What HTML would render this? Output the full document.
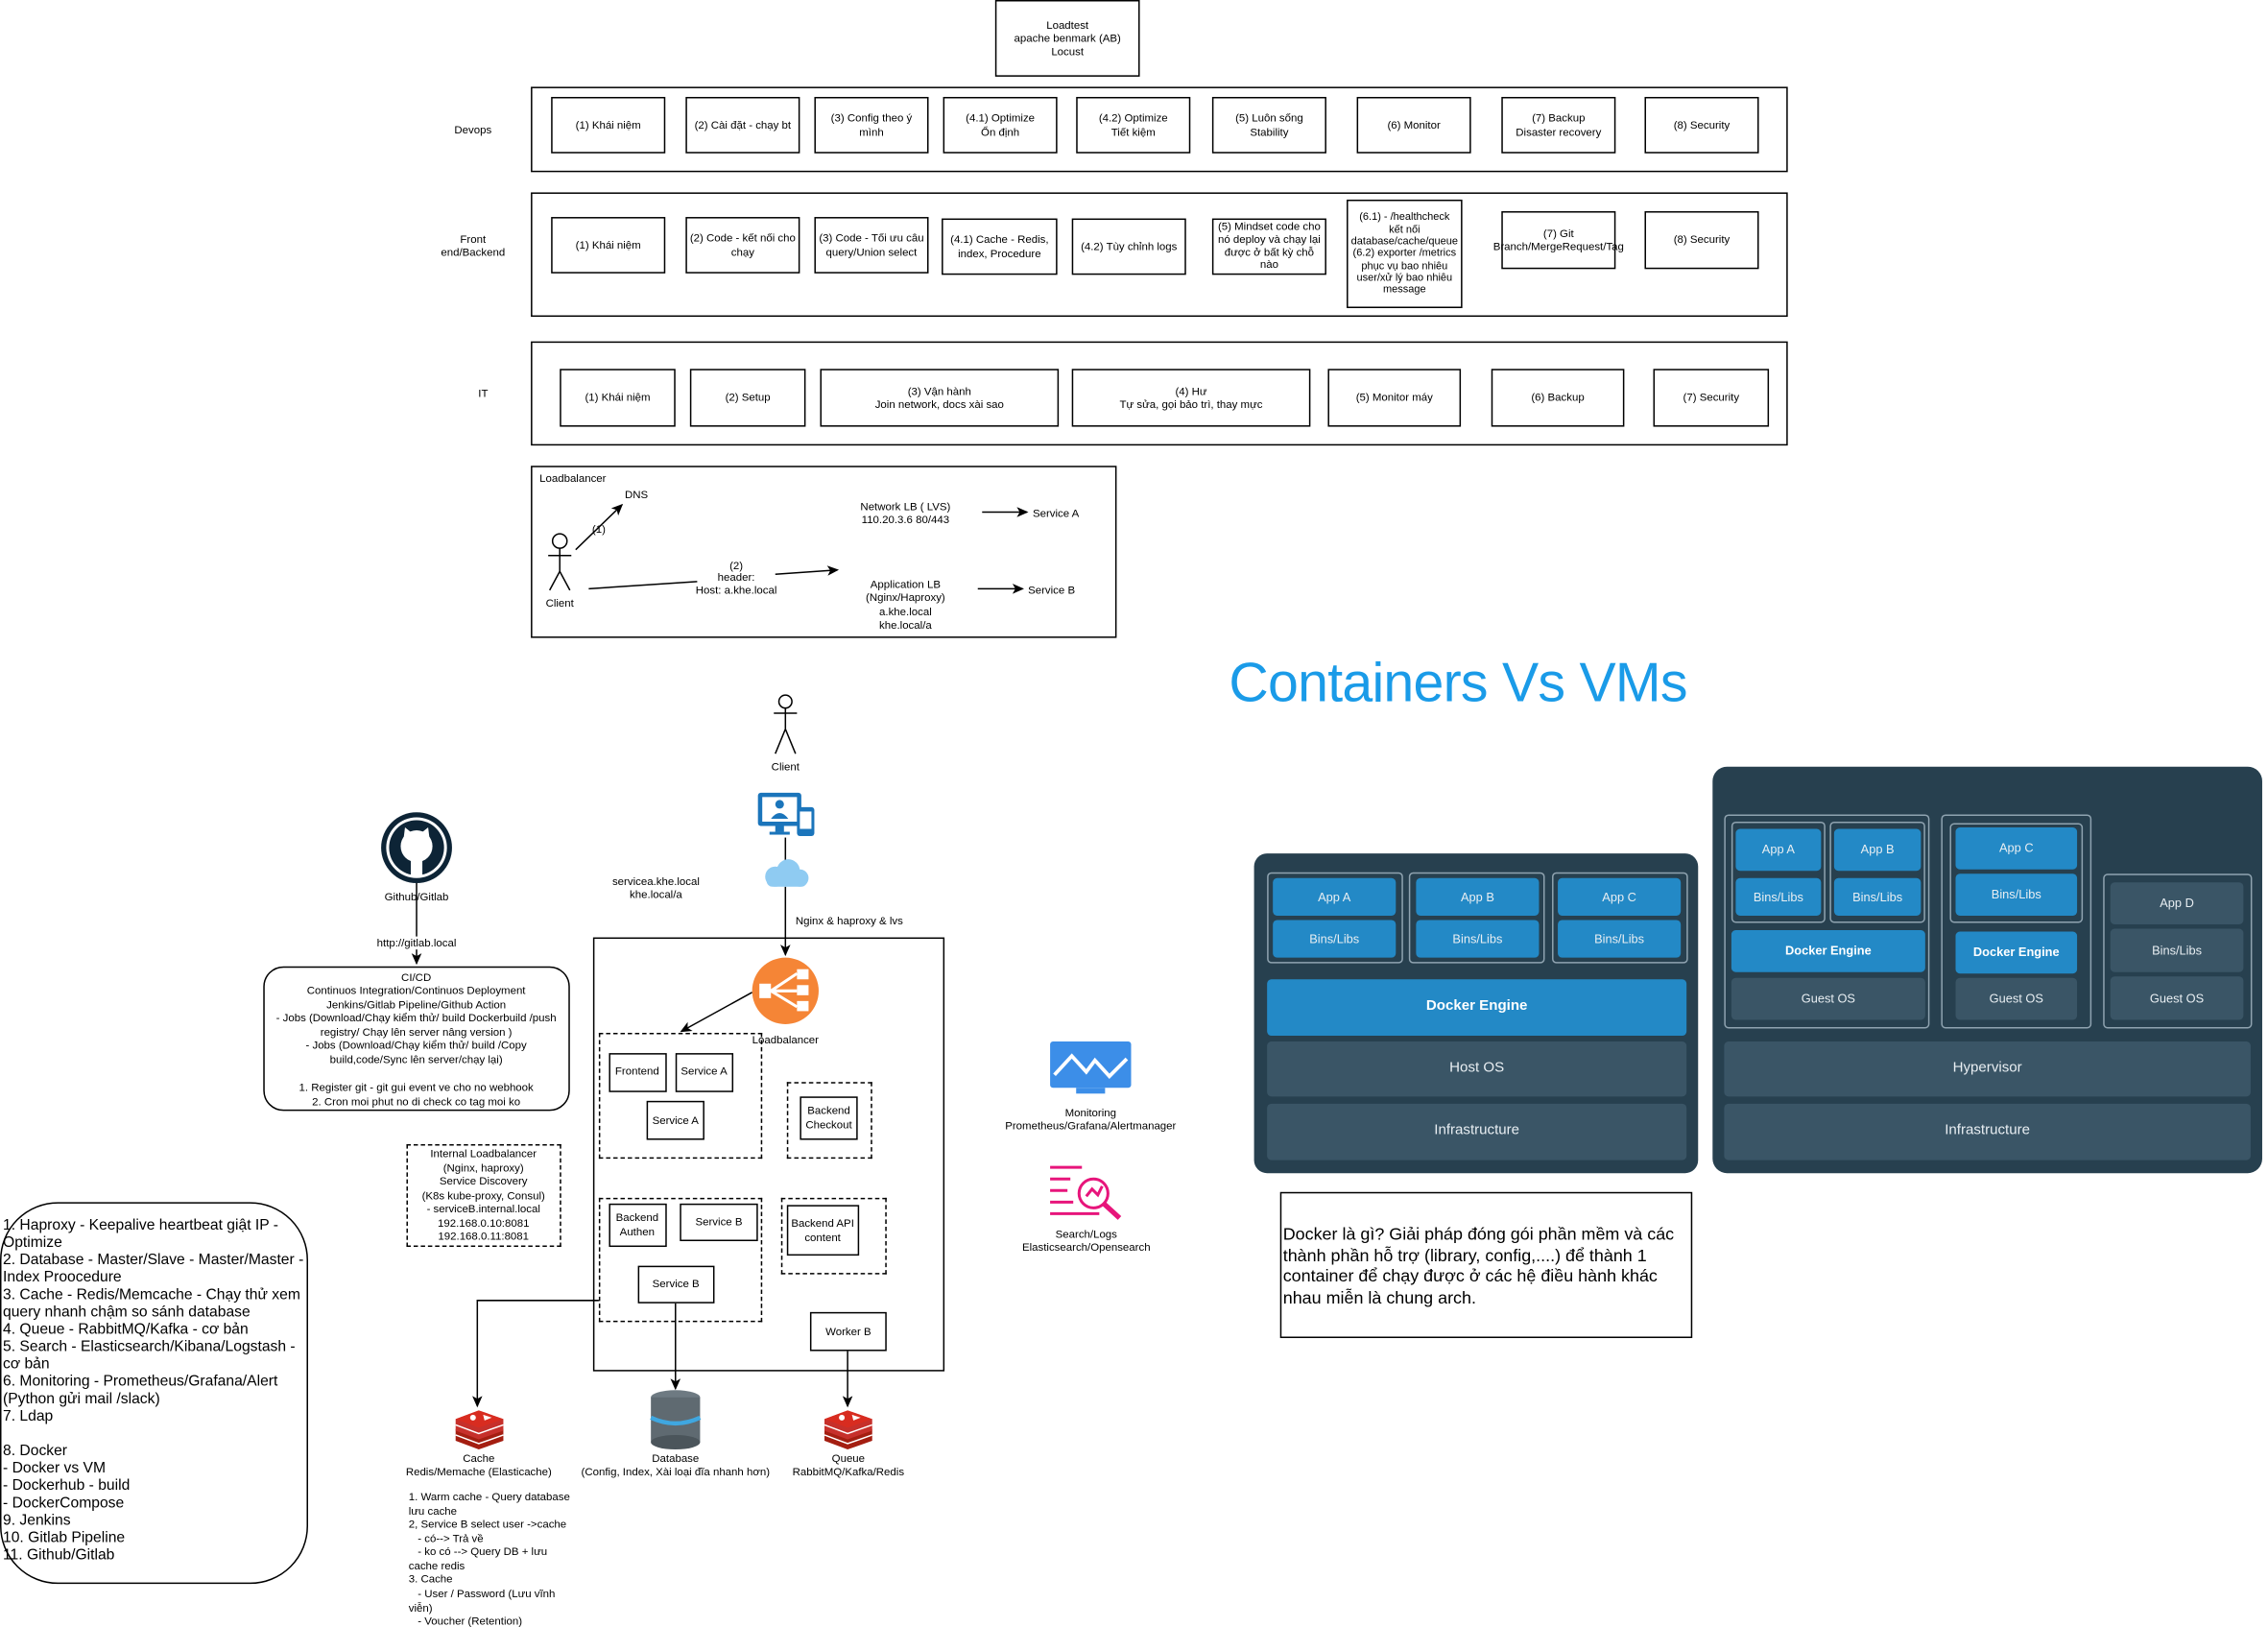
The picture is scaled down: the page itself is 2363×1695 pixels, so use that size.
<!DOCTYPE html>
<html><head><meta charset="utf-8">
<style>
html,body{margin:0;padding:0;background:#fff;overflow:hidden}
body{width:2363px;height:1695px;position:relative}
#w{position:absolute;left:0;top:0;width:1568px;height:1125px;transform:scale(1.50702);transform-origin:0 0;font-family:"Liberation Sans","Noto Sans CJK SC",sans-serif;font-size:7.6px;color:#000;line-height:1.22}
.b{position:absolute;box-sizing:border-box;border:1px solid #000;display:flex;align-items:center;justify-content:center;text-align:center;background:#fff}
.d{position:absolute;box-sizing:border-box;border:1px dashed #000}
.t{position:absolute;text-align:center;white-space:nowrap;transform:translate(-50%,-50%)}
.l{position:absolute;white-space:nowrap}
.p{position:absolute;box-sizing:border-box;border-radius:3px;display:flex;align-items:center;justify-content:center;color:#e8eef2;font-size:8.5px}
.bl{background:#2389c6}.gr{background:#3a5566}
.o{position:absolute;box-sizing:border-box;border:1px solid #8fa3b0;border-radius:3px}
</style></head><body><div id="w">
<svg style="position:absolute;left:0;top:0" width="1568" height="1125">
<defs><marker id="a" markerWidth="8" markerHeight="8" refX="7" refY="4" orient="auto" markerUnits="userSpaceOnUse"><path d="M0,0.5 L8,4 L0,7.5 L2,4z" fill="#000"/></marker></defs>
<g stroke="#000" stroke-width="1" fill="none">
<circle cx="387" cy="374" r="5"/><path d="M387,379 V395 M379,384 H395 M387,395 L380,408 M387,395 L394,408"/>
<path d="M398,380 L430,349" marker-end="url(#a)"/>
<path d="M407,407 L482,402"/><path d="M536,397 L579,394" marker-end="url(#a)"/>
<path d="M679,354 H710" marker-end="url(#a)"/><path d="M676,407 H707" marker-end="url(#a)"/>
<circle cx="543" cy="485" r="4.5"/><path d="M543,489.5 V504 M535,493 H551 M543,504 L536,521 M543,504 L550,521"/>
<path d="M543,579 V596"/><path d="M543,613 V660" marker-end="url(#a)"/>
<path d="M520,686 L471,713" marker-end="url(#a)"/>
<path d="M288,610 V666" marker-end="url(#a)"/>
<path d="M414,899 H330 V972" marker-end="url(#a)"/>
<path d="M467,901 V960" marker-end="url(#a)"/>
<path d="M586,934 V972" marker-end="url(#a)"/>
</g>
<!-- monitor icon client -->
<rect x="524" y="548" width="30" height="23" rx="2" fill="#1b75bb"/><rect x="527" y="551" width="24" height="17" fill="#fff"/>
<circle cx="539" cy="556" r="3" fill="#1b75bb"/><path d="M533,566 Q539,558 545,566z" fill="#1b75bb"/>
<rect x="536" y="571" width="6" height="4" fill="#1b75bb"/><rect x="532" y="575" width="14" height="2" fill="#1b75bb"/>
<rect x="551" y="558" width="12" height="20" rx="2" fill="#1b75bb"/><rect x="553" y="561" width="8" height="12" fill="#fff"/>
<!-- cloud -->
<g fill="#8fcbf2"><circle cx="536" cy="606" r="7"/><circle cx="545" cy="602" r="8"/><circle cx="553" cy="607" r="6"/><rect x="530" y="604" width="28" height="9" rx="4"/></g>
<!-- LB icon -->
<circle cx="543" cy="685" r="23" fill="#f58536"/>
<g fill="#fff"><rect x="525" y="680" width="8" height="10"/><rect x="551" y="670" width="8" height="7"/><rect x="551" y="681" width="8" height="7"/><rect x="551" y="692" width="8" height="7"/></g>
<path d="M533,685 L551,673 M533,685 H551 M533,685 L551,696" stroke="#fff" stroke-width="2"/>
<!-- github -->
<circle cx="288" cy="586" r="24.5" fill="#0d2436"/><circle cx="288" cy="586" r="21" fill="#fff"/><circle cx="288" cy="586" r="19" fill="#0d2436"/>
<circle cx="288" cy="585" r="11" fill="#fff"/><path d="M279,580 L280,572 L285,576 H291 L296,572 L297,580z" fill="#fff"/>
<rect x="284" y="594" width="8" height="12" fill="#fff"/>
<!-- redis -->
<g id="rd"><path d="M315,988 L331,982 L348,988 L348,996 L331,1002 L315,996z" fill="#a41e11"/><path d="M315,981 L331,975 L348,981 L348,989 L331,995 L315,989z" fill="#c6302b"/><path d="M315,981 L331,975 L348,981 L331,987z" fill="#d82c20"/><path d="M315,985 L331,991 L348,985" stroke="#fff" stroke-width="1" fill="none"/><path d="M315,992 L331,998 L348,992" stroke="#fff" stroke-width="1" fill="none"/><circle cx="327" cy="980" r="2" fill="#fff"/><path d="M334,978 L340,980 L335,982z" fill="#fff"/></g>
<use href="#rd" x="255" y="0"/>
<!-- db -->
<ellipse cx="467" cy="966" rx="17" ry="5" fill="#6e7a82"/><rect x="450" y="966" width="34" height="31" fill="#5f6a71"/><ellipse cx="467" cy="997" rx="17" ry="5" fill="#4b555b"/>
<path d="M450,980 Q467,988 484,980" stroke="#3fa7e0" stroke-width="3" fill="none"/>
<!-- monitoring -->
<rect x="726" y="720" width="56" height="32" rx="2" fill="#3c8ee8"/><path d="M729,743 L741,730 L751,741 L757,733 L767,744 L779,732" stroke="#fff" stroke-width="2.5" fill="none"/>
<rect x="744" y="752" width="20" height="4" fill="#3c8ee8"/>
<!-- search -->
<g stroke="#e7157b" stroke-width="2" fill="none"><path d="M726,807 H748 M726,815 H740 M726,823 H738 M726,831 H742 M726,839 H760"/><circle cx="756" cy="825" r="10"/><path d="M763,832 L774,842" stroke-width="3.5"/><path d="M751,827 L755,822 L759,826 L762,820"/></g>
</svg>

<div class="b" style="left:688px;top:0;width:100px;height:53px">Loadtest<br>apache benmark (AB)<br>Locust</div>

<div class="t" style="left:327px;top:90px">Devops</div>
<div class="b" style="left:367px;top:60px;width:869px;height:59px;background:none"></div>
<div class="b" style="left:381px;top:67px;width:79px;height:39px">(1) Khái niệm</div>
<div class="b" style="left:474px;top:67px;width:79px;height:39px">(2) Cài đặt - chạy bt</div>
<div class="b" style="left:563px;top:67px;width:79px;height:39px">(3) Config theo ý<br>mình</div>
<div class="b" style="left:652px;top:67px;width:79px;height:39px">(4.1) Optimize<br>Ổn định</div>
<div class="b" style="left:744px;top:67px;width:79px;height:39px">(4.2) Optimize<br>Tiết kiệm</div>
<div class="b" style="left:838px;top:67px;width:79px;height:39px">(5) Luôn sống<br>Stability</div>
<div class="b" style="left:938px;top:67px;width:79px;height:39px">(6) Monitor</div>
<div class="b" style="left:1038px;top:67px;width:79px;height:39px">(7) Backup<br>Disaster recovery</div>
<div class="b" style="left:1137px;top:67px;width:79px;height:39px">(8) Security</div>

<div class="t" style="left:327px;top:170px">Front<br>end/Backend</div>
<div class="b" style="left:367px;top:133px;width:869px;height:86px;background:none"></div>
<div class="b" style="left:381px;top:150px;width:79px;height:39px">(1) Khái niệm</div>
<div class="b" style="left:474px;top:150px;width:79px;height:39px">(2) Code - kết nối cho<br>chạy</div>
<div class="b" style="left:563px;top:150px;width:79px;height:39px">(3) Code - Tối ưu câu<br>query/Union select</div>
<div class="b" style="left:651px;top:151px;width:80px;height:39px">(4.1) Cache - Redis,<br>index, Procedure</div>
<div class="b" style="left:741px;top:151px;width:79px;height:39px">(4.2) Tùy chỉnh logs</div>
<div class="b" style="left:838px;top:151px;width:79px;height:39px;line-height:1.15">(5) Mindset code cho<br>nó deploy và chạy lại<br>được ở bất kỳ chỗ<br>nào</div>
<div class="b" style="left:931px;top:138px;width:80px;height:75px;line-height:1.15;font-size:7.3px">(6.1) - /healthcheck<br>kết nối<br>database/cache/queue<br>(6.2) exporter /metrics<br>phục vụ bao nhiêu<br>user/xử lý bao nhiêu<br>message</div>
<div class="b" style="left:1038px;top:146px;width:79px;height:40px">(7) Git<br>Branch/MergeRequest/Tag</div>
<div class="b" style="left:1137px;top:146px;width:79px;height:40px">(8) Security</div>

<div class="t" style="left:334px;top:272px">IT</div>
<div class="b" style="left:367px;top:236px;width:869px;height:72px;background:none"></div>
<div class="b" style="left:387px;top:255px;width:80px;height:40px">(1) Khái niệm</div>
<div class="b" style="left:477px;top:255px;width:80px;height:40px">(2) Setup</div>
<div class="b" style="left:567px;top:255px;width:165px;height:40px">(3) Vận hành<br>Join network, docs xài sao</div>
<div class="b" style="left:741px;top:255px;width:165px;height:40px">(4) Hư<br>Tự sửa, gọi bảo trì, thay mực</div>
<div class="b" style="left:918px;top:255px;width:92px;height:40px">(5) Monitor máy</div>
<div class="b" style="left:1031px;top:255px;width:92px;height:40px">(6) Backup</div>
<div class="b" style="left:1143px;top:255px;width:80px;height:40px">(7) Security</div>

<div class="b" style="left:367px;top:322px;width:405px;height:119px;background:none"></div>
<div class="l" style="left:373px;top:326px">Loadbalancer</div>
<div class="t" style="left:440px;top:342px">DNS</div>
<div class="t" style="left:414px;top:366px">(1)</div>
<div class="t" style="left:387px;top:417px">Client</div>
<div class="t" style="left:509px;top:400px;line-height:1.1">(2)<br>header:<br>Host: a.khe.local</div>
<div class="t" style="left:626px;top:355px">Network LB ( LVS)<br>110.20.3.6 80/443</div>
<div class="t" style="left:730px;top:355px">Service A</div>
<div class="t" style="left:626px;top:418px">Application LB<br>(Nginx/Haproxy)<br>a.khe.local<br>khe.local/a</div>
<div class="t" style="left:727px;top:408px">Service B</div>

<div class="t" style="left:1008px;top:473px;font-size:38px;color:#1a9be8;letter-spacing:-0.5px">Containers Vs VMs</div>

<!-- Docker panel -->
<div style="position:absolute;left:867px;top:590px;width:307px;height:221px;background:#27404f;border-radius:9px"></div>
<div class="o" style="left:875.5px;top:603px;width:94px;height:63px"></div>
<div class="o" style="left:974px;top:603px;width:94px;height:63px"></div>
<div class="o" style="left:1072.5px;top:603px;width:94px;height:63px"></div>
<div class="p bl" style="left:880px;top:607px;width:85px;height:26px">App A</div>
<div class="p bl" style="left:880px;top:636px;width:85px;height:26px">Bins/Libs</div>
<div class="p bl" style="left:979px;top:607px;width:85px;height:26px">App B</div>
<div class="p bl" style="left:979px;top:636px;width:85px;height:26px">Bins/Libs</div>
<div class="p bl" style="left:1077px;top:607px;width:85px;height:26px">App C</div>
<div class="p bl" style="left:1077px;top:636px;width:85px;height:26px">Bins/Libs</div>
<div class="p bl" style="left:876px;top:677px;width:290px;height:39px;font-weight:bold;font-size:10px;color:#fff">Docker Engine</div>
<div class="p gr" style="left:876px;top:720px;width:290px;height:38px;font-size:10px">Host OS</div>
<div class="p gr" style="left:876px;top:763px;width:290px;height:39px;font-size:10px">Infrastructure</div>

<!-- VM panel -->
<div style="position:absolute;left:1184px;top:530px;width:380px;height:281px;background:#27404f;border-radius:10px"></div>
<div class="o" style="left:1192px;top:562.5px;width:142px;height:148.5px"></div>
<div class="o" style="left:1197px;top:568px;width:65px;height:70px"></div>
<div class="o" style="left:1265px;top:568px;width:66px;height:70px"></div>
<div class="p bl" style="left:1200px;top:573px;width:59px;height:29px">App A</div>
<div class="p bl" style="left:1200px;top:607px;width:59px;height:26px">Bins/Libs</div>
<div class="p bl" style="left:1268px;top:573px;width:60px;height:29px">App B</div>
<div class="p bl" style="left:1268px;top:607px;width:60px;height:26px">Bins/Libs</div>
<div class="p bl" style="left:1197px;top:643px;width:134px;height:29px;font-weight:bold;color:#fff">Docker Engine</div>
<div class="p gr" style="left:1197px;top:675.5px;width:134px;height:29.5px">Guest OS</div>
<div class="o" style="left:1341.5px;top:562.5px;width:104px;height:148.5px"></div>
<div class="o" style="left:1347.5px;top:569px;width:92.5px;height:69px"></div>
<div class="p bl" style="left:1352px;top:571.5px;width:84px;height:29px">App C</div>
<div class="p bl" style="left:1352px;top:604px;width:84px;height:29px">Bins/Libs</div>
<div class="p bl" style="left:1352px;top:644px;width:84px;height:29px;font-weight:bold;color:#fff">Docker Engine</div>
<div class="p gr" style="left:1352px;top:675.5px;width:84px;height:29.5px">Guest OS</div>
<div class="o" style="left:1454px;top:604px;width:102.5px;height:107px"></div>
<div class="p gr" style="left:1459px;top:609.5px;width:92px;height:29.5px">App D</div>
<div class="p gr" style="left:1459px;top:642px;width:92px;height:30px">Bins/Libs</div>
<div class="p gr" style="left:1459px;top:675px;width:92px;height:30px">Guest OS</div>
<div class="p gr" style="left:1192px;top:720px;width:364px;height:38px;font-size:10px">Hypervisor</div>
<div class="p gr" style="left:1192px;top:763px;width:364px;height:39px;font-size:10px">Infrastructure</div>

<div class="b" style="left:885px;top:824px;width:285px;height:101px;justify-content:flex-start;text-align:left;align-items:flex-start;padding:21px 1px 0 1px;font-size:11.9px;line-height:14.5px">Docker là gì? Giải pháp đóng gói phần mềm và các thành phần hỗ trợ (library, config,....) để thành 1 container để chạy được ở các hệ điều hành khác nhau miễn là chung arch.</div>

<div class="t" style="left:754px;top:774px">Monitoring<br>Prometheus/Grafana/Alertmanager</div>
<div class="t" style="left:751px;top:858px">Search/Logs<br>Elasticsearch/Opensearch</div>

<!-- bottom left architecture -->
<div class="t" style="left:543px;top:530px">Client</div>
<div class="t" style="left:453.5px;top:614px">servicea.khe.local<br>khe.local/a</div>
<div class="l" style="left:550px;top:632px">Nginx &amp; haproxy &amp; lvs</div>
<div class="b" style="left:410px;top:647.5px;width:243px;height:300.5px;background:none"></div>
<div class="t" style="left:543px;top:718.5px">Loadbalancer</div>
<div class="d" style="left:414px;top:714px;width:113px;height:87px"></div>
<div class="b" style="left:420.5px;top:727.5px;width:40px;height:27px">Frontend</div>
<div class="b" style="left:466.5px;top:727.5px;width:40.5px;height:27px">Service A</div>
<div class="b" style="left:447px;top:761px;width:40px;height:26.5px">Service A</div>
<div class="d" style="left:543.5px;top:747.5px;width:59.5px;height:53.5px"></div>
<div class="b" style="left:553px;top:757.5px;width:40px;height:30px">Backend<br>Checkout</div>
<div class="d" style="left:414px;top:827.5px;width:113px;height:86.5px"></div>
<div class="b" style="left:420.5px;top:831.5px;width:40px;height:30px">Backend<br>Authen</div>
<div class="b" style="left:470px;top:831.5px;width:54px;height:26.5px">Service B</div>
<div class="b" style="left:440.5px;top:874.5px;width:53.5px;height:26.5px">Service B</div>
<div class="d" style="left:540px;top:827.5px;width:73px;height:53.5px"></div>
<div class="b" style="left:544px;top:833px;width:49.5px;height:35px">Backend API<br>content</div>
<div class="b" style="left:560px;top:907px;width:53px;height:27px">Worker B</div>

<div class="t" style="left:331px;top:1013px">Cache<br>Redis/Memache (Elasticache)</div>
<div class="t" style="left:467px;top:1013px">Database<br>(Config, Index, Xài loại đĩa nhanh hơn)</div>
<div class="t" style="left:586.5px;top:1013px">Queue<br>RabbitMQ/Kafka/Redis</div>
<div class="l" style="left:282.5px;top:1030px;line-height:9.57px">1. Warm cache - Query database<br>lưu cache<br>2, Service B select user -&gt;cache<br>&nbsp;&nbsp;&nbsp;- có--&gt; Trả về<br>&nbsp;&nbsp;&nbsp;- ko có --&gt; Query DB + lưu<br>cache redis<br>3. Cache<br>&nbsp;&nbsp;&nbsp;- User / Password (Lưu vĩnh<br>viễn)<br>&nbsp;&nbsp;&nbsp;- Voucher (Retention)</div>

<div class="t" style="left:288px;top:620px">Github/Gitlab</div>
<div class="t" style="left:288px;top:652px;background:#fff">http://gitlab.local</div>
<div class="b" style="left:181.5px;top:667.5px;width:212.5px;height:100px;border-radius:14px;align-items:flex-start;padding-top:2px;line-height:9.6px">CI/CD<br>Continuos Integration/Continuos Deployment<br>Jenkins/Gitlab Pipeline/Github Action<br>- Jobs (Download/Chạy kiểm thử/ build Dockerbuild /push<br>registry/ Chạy lên server nâng version )<br>- Jobs (Download/Chạy kiểm thử/ build /Copy<br>build,code/Sync lên server/chạy lại)<br>&nbsp;<br>1. Register git - git gui event ve cho no webhook<br>2. Cron moi phut no di check co tag moi ko</div>
<div class="d" style="left:281px;top:791px;width:106.5px;height:70.5px;text-align:center;line-height:9.5px;padding-top:1px">Internal Loadbalancer<br>(Nginx, haproxy)<br>Service Discovery<br>(K8s kube-proxy, Consul)<br>- serviceB.internal.local<br>192.168.0.10:8081<br>192.168.0.11:8081</div>

<div class="b" style="left:0;top:831px;width:213px;height:264px;border-radius:40px;justify-content:flex-start;text-align:left;align-items:flex-start;padding:10px 0 0 1px;font-size:10.4px;line-height:12.02px;white-space:normal">1. Haproxy - Keepalive heartbeat giật IP - Optimize<br>2. Database - Master/Slave - Master/Master - Index Proocedure<br>3. Cache - Redis/Memcache - Chạy thử xem query nhanh chậm so sánh database<br>4. Queue - RabbitMQ/Kafka - cơ bản<br>5. Search - Elasticsearch/Kibana/Logstash - cơ bản<br>6. Monitoring - Prometheus/Grafana/Alert (Python gửi mail /slack)<br>7. Ldap<br><br>8. Docker<br>- Docker vs VM<br>- Dockerhub - build<br>- DockerCompose<br>9. Jenkins<br>10. Gitlab Pipeline<br>11. Github/Gitlab</div>
</div></body></html>
